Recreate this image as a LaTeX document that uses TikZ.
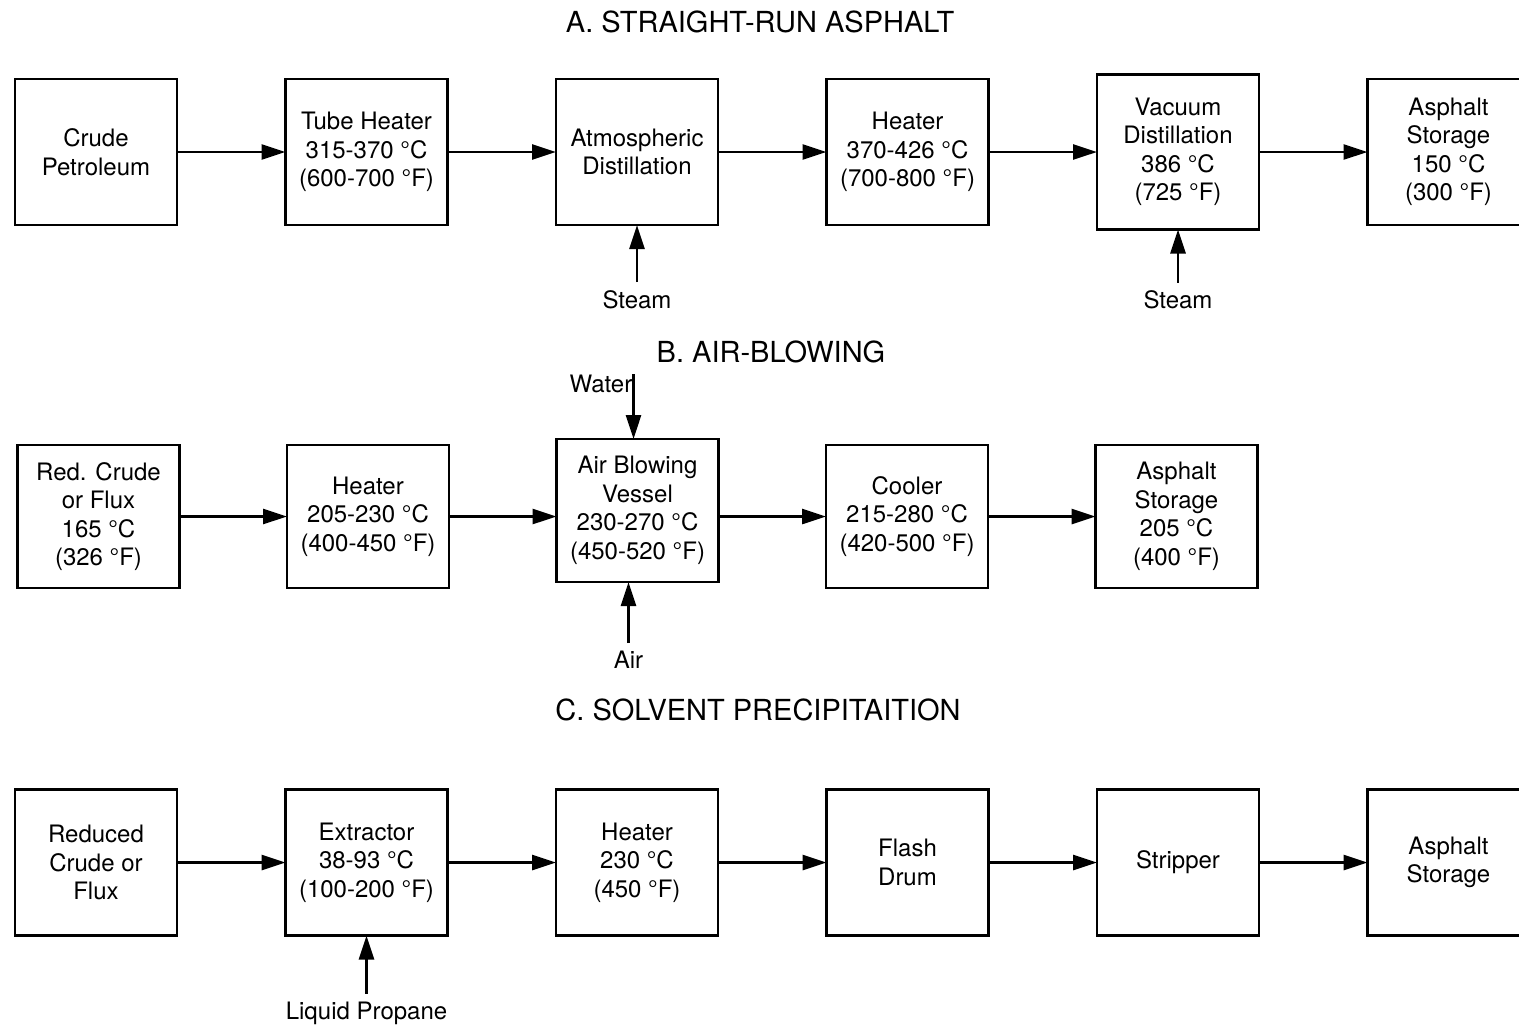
\documentclass[tikz,border=0pt]{standalone}
\usepackage{fontspec}
\setmainfont{TeX Gyre Heros}
\usetikzlibrary{positioning, arrows.meta}

\tikzset{
	box/.style={draw, line width=2.8pt, minimum width=162pt, minimum height=146pt,
		align=center, inner sep=0pt, outer sep=0pt, font=\fontsize{24}{28.5}\selectfont},
	tag/.style={inner sep=8pt, font=\fontsize{24}{28}\selectfont},
	heading/.style={font=\fontsize{29}{34}\selectfont},
	flow/.style={line width=2.8pt, -{Triangle[length=24pt, width=15pt]}}
}

\begin{document}
\begin{tikzpicture}[x=1pt, y=-1pt]
	\useasboundingbox (0,0) rectangle (1519,1028);

	% A. straight-run
	\draw node (titleA)[heading] at (760,22) {A. STRAIGHT-RUN ASPHALT};
	\draw node (crude)[box] at (96,152) {Crude\\Petroleum};
	\draw node (tube)[box, right=108.5pt of crude] {Tube Heater\\315-370 °C\\(600-700 °F)};
	\draw node (atmos)[box, right=108.5pt of tube] {Atmospheric\\Distillation};
	\draw node (heatA)[box, right=108.5pt of atmos] {Heater\\370-426 °C\\(700-800 °F)};
	\draw node (vacuum)[box, minimum height=155pt, right=108.5pt of heatA] {Vacuum\\Distillation\\386 °C\\(725 °F)};
	\draw node (storeA)[box, right=108.5pt of vacuum] {Asphalt\\Storage\\150 °C\\(300 °F)};
	\draw node (steamA)[tag, below=57pt of atmos] {Steam};
	\draw node (steamB)[tag, below=53pt of vacuum] {Steam};
	\draw[flow] (crude)--(tube);
	\draw[flow] (tube)--(atmos);
	\draw[flow] (atmos)--(heatA);
	\draw[flow] (heatA)--(vacuum);
	\draw[flow] (vacuum)--(storeA);
	\draw[flow] (steamA)--(atmos);
	\draw[flow] (steamB)--(vacuum);

	% B. air-blowing
	\draw node (titleB)[heading] at (771,352) {B. AIR-BLOWING};
	\draw node (redcrude)[box, minimum height=143pt] at (98.5,516.5) {Red. Crude\\or Flux\\165 °C\\(326 °F)};
	\draw node (heatB)[box, minimum height=143pt, right=107.5pt of redcrude] {Heater\\205-230 °C\\(400-450 °F)};
	\draw node (blower)[box, minimum height=143pt, right=107.5pt of heatB, yshift=6pt] {Air Blowing\\Vessel\\230-270 °C\\(450-520 °F)};
	\draw node (cooler)[box, minimum height=143pt, right=107.5pt of heatB, xshift=269.5pt] {Cooler\\215-280 °C\\(420-500 °F)};
	\draw node (storeB)[box, minimum height=143pt, right=107.5pt of cooler] {Asphalt\\Storage\\205 °C\\(400 °F)};
	\draw node (wtop)[coordinate, above=65pt of blower.north, xshift=-4pt]{};
	\draw node (water)[tag, inner sep=1pt, anchor=north east] at (wtop) {Water};
	\draw node (air)[tag, below=61pt of blower, xshift=-9pt] {Air};
	\draw[flow] (redcrude)--(heatB);
	\draw[flow] (heatB)--(heatB -| blower.west);
	\draw[flow] (cooler -| blower.east)--(cooler);
	\draw[flow] (cooler)--(storeB);
	\draw[flow] (wtop)--(wtop |- blower.north);
	\draw[flow] (air)--(air |- blower.south);

	% C. solvent precipitation
	\draw node (titleC)[heading] at (758,710) {C. SOLVENT PRECIPITAITION};
	\draw node (reduced)[box] at (96,862.5) {Reduced\\Crude or\\Flux};
	\draw node (extractor)[box, right=108.5pt of reduced] {Extractor\\38-93 °C\\(100-200 °F)};
	\draw node (heatC)[box, right=108.5pt of extractor] {Heater\\230 °C\\(450 °F)};
	\draw node (flash)[box, right=108.5pt of heatC] {Flash\\Drum};
	\draw node (stripper)[box, right=108.5pt of flash] {Stripper};
	\draw node (storeC)[box, right=108.5pt of stripper] {Asphalt\\Storage};
	\draw node (propane)[tag, below=58pt of extractor] {Liquid Propane};
	\draw[flow] (reduced)--(extractor);
	\draw[flow] (extractor)--(heatC);
	\draw[flow] (heatC)--(flash);
	\draw[flow] (flash)--(stripper);
	\draw[flow] (stripper)--(storeC);
	\draw[flow] (propane)--(extractor);
\end{tikzpicture}
\end{document}
